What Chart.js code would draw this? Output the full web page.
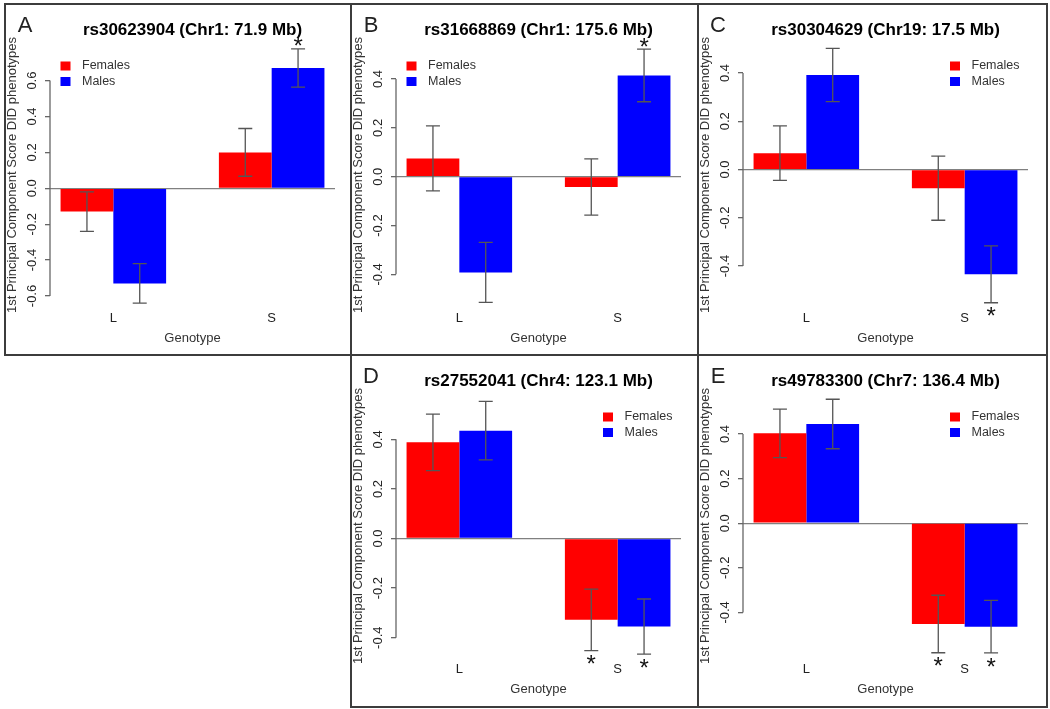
<!DOCTYPE html>
<html><head><meta charset="utf-8">
<script src="https://cdn.jsdelivr.net/npm/chart.js@4.4.1/dist/chart.umd.min.js"></script>
<style>
html,body{margin:0;padding:0;background:#fff;}
#wrap{position:relative;width:1050px;height:709px;overflow:hidden;background:#fff;}
.panel{position:absolute;width:347px;height:351px;}
.panel canvas{display:block;}
.ln{position:absolute;background:#3c3c3c;}
</style></head><body>
<div id="wrap">
  <div class="panel" style="left:5px;top:4px"><canvas id="cA" width="347" height="351"></canvas></div>
  <div class="panel" style="left:351px;top:4px"><canvas id="cB" width="347" height="351"></canvas></div>
  <div class="panel" style="left:698px;top:4px"><canvas id="cC" width="347" height="351"></canvas></div>
  <div class="panel" style="left:351px;top:355px"><canvas id="cD" width="347" height="351"></canvas></div>
  <div class="panel" style="left:698px;top:355px"><canvas id="cE" width="347" height="351"></canvas></div>
  <div class="ln" style="left:4px;top:3px;width:1044px;height:2px"></div>
  <div class="ln" style="left:4px;top:3px;width:2px;height:353px"></div>
  <div class="ln" style="left:4px;top:354px;width:1044px;height:2px"></div>
  <div class="ln" style="left:350px;top:3px;width:2px;height:705px"></div>
  <div class="ln" style="left:697px;top:3px;width:2px;height:705px"></div>
  <div class="ln" style="left:1046px;top:3px;width:2px;height:705px"></div>
  <div class="ln" style="left:350px;top:706px;width:698px;height:2px"></div>
</div>
<script>
// ---------- data ----------
const categories = ['L', 'S'];
const seriesNames = ['Females', 'Males'];
const panelLetters = ['A', 'B', 'C', 'D', 'E'];
const panelTitles = [
  'rs30623904 (Chr1: 71.9 Mb)',
  'rs31668869 (Chr1: 175.6 Mb)',
  'rs30304629 (Chr19: 17.5 Mb)',
  'rs27552041 (Chr4: 123.1 Mb)',
  'rs49783300 (Chr7: 136.4 Mb)'
];
const xAxisTitle = 'Genotype';
const yAxisTitle = '1st Principal Component Score DID phenotypes';
const legendSide = ['left', 'left', 'right', 'right', 'right'];

// Panel A
const femalesA = [-0.13, 0.20];
const malesA = [-0.53, 0.67];
const femalesSeA = [0.11, 0.133];
const malesSeA = [0.11, 0.107];
const femalesSigA = [false, false];
const malesSigA = [false, true];
const yTicksA = [-0.6, -0.4, -0.2, 0, 0.2, 0.4, 0.6];
const yRangeA = [-0.678, 0.826];

// Panel B
const femalesB = [0.075, -0.042];
const malesB = [-0.392, 0.415];
const femalesSeB = [0.133, 0.115];
const malesSeB = [0.123, 0.108];
const femalesSigB = [false, false];
const malesSigB = [false, true];
const yTicksB = [-0.4, -0.2, 0, 0.2, 0.4];
const yRangeB = [-0.546, 0.560];

// Panel C
const femalesC = [0.068, -0.077];
const malesC = [0.392, -0.434];
const femalesSeC = [0.113, 0.133];
const malesSeC = [0.110, 0.118];
const femalesSigC = [false, false];
const malesSigC = [false, true];
const yTicksC = [-0.4, -0.2, 0, 0.2, 0.4];
const yRangeC = [-0.582, 0.537];

// Panel D
const femalesD = [0.388, -0.328];
const malesD = [0.435, -0.355];
const femalesSeD = [0.114, 0.124];
const malesSeD = [0.118, 0.111];
const femalesSigD = [false, true];
const malesSigD = [false, true];
const yTicksD = [-0.4, -0.2, 0, 0.2, 0.4];
const yRangeD = [-0.494, 0.595];

// Panel E
const femalesE = [0.403, -0.452];
const malesE = [0.445, -0.464];
const femalesSeE = [0.109, 0.129];
const malesSeE = [0.111, 0.118];
const femalesSigE = [false, true];
const malesSigE = [false, true];
const yTicksE = [-0.4, -0.2, 0, 0.2, 0.4];
const yRangeE = [-0.618, 0.593];

const femalesColor = '#ff0000';
const malesColor = '#0000ff';

// ---------- chart ----------
Chart.defaults.font.family = '"Liberation Sans", Arial, Helvetica, sans-serif';
Chart.defaults.color = '#333';

// R barplot(beside=TRUE) layout: one bar-width gap, then the two bars of a group
function groupCenter(i) { return 2 + 3 * i; }

const decor = {
  id: 'decor',
  afterDatasetsDraw(chart) {
    const ctx = chart.ctx;
    const ys = chart.scales.y;
    const o = chart.options.plugins.decor;
    ctx.save();
    ctx.strokeStyle = '#555';
    ctx.lineWidth = 1.3;
    chart.data.datasets.forEach((ds, di) => {
      const meta = chart.getDatasetMeta(di);
      meta.data.forEach((bar, i) => {
        const v = ds.data[i].y, se = ds.errors[i];
        const yt = ys.getPixelForValue(v + se), yb = ys.getPixelForValue(v - se);
        ctx.beginPath();
        ctx.moveTo(bar.x, yt); ctx.lineTo(bar.x, yb);
        ctx.moveTo(bar.x - 7, yt); ctx.lineTo(bar.x + 7, yt);
        ctx.moveTo(bar.x - 7, yb); ctx.lineTo(bar.x + 7, yb);
        ctx.stroke();
        if (ds.sig[i]) {
          const c = v >= 0 ? yt - 8 : yb + 8;
          ctx.fillStyle = '#111';
          ctx.font = '24px "Liberation Sans", Arial, sans-serif';
          ctx.textAlign = 'center';
          ctx.textBaseline = 'alphabetic';
          ctx.fillText('*', bar.x, c + 0.57 * 24);
        }
      });
    });
    // y axis line (R style: spans first to last tick)
    const tk = ys.ticks;
    const x0 = chart.chartArea.left;
    ctx.strokeStyle = '#666';
    ctx.beginPath();
    ctx.moveTo(x0, ys.getPixelForValue(tk[0].value));
    ctx.lineTo(x0, ys.getPixelForValue(tk[tk.length - 1].value));
    ctx.stroke();
    ctx.restore();
  },
  afterDraw(chart) {
    const ctx = chart.ctx;
    const o = chart.options.plugins.decor;
    ctx.save();
    // panel letter
    ctx.fillStyle = '#222';
    ctx.font = '22px "Liberation Sans", Arial, sans-serif';
    ctx.textAlign = 'center';
    ctx.textBaseline = 'middle';
    ctx.fillText(o.letter, 20, 22);
    // legend
    const bx = o.legend === 'left' ? 55.5 : 252;
    ctx.font = '12.5px "Liberation Sans", Arial, sans-serif';
    ctx.textAlign = 'left';
    chart.data.datasets.forEach((ds, i) => {
      const cy = 62 + i * 15.5;
      ctx.fillStyle = ds.backgroundColor;
      ctx.fillRect(bx, cy - 4.5, 10, 9);
      ctx.fillStyle = '#333';
      ctx.fillText(ds.label, bx + 21.5, cy);
    });
    ctx.restore();
  }
};

function makePanel(id, letter, title, fem, mal, femSe, malSe, femSig, malSig, yTicks, yRange, legend) {
  const toPts = arr => arr.map((v, i) => ({ x: groupCenter(i), y: v }));
  new Chart(document.getElementById(id), {
    type: 'bar',
    data: {
      datasets: [
        { label: seriesNames[0], data: toPts(fem), errors: femSe, sig: femSig, backgroundColor: femalesColor, borderWidth: 0 },
        { label: seriesNames[1], data: toPts(mal), errors: malSe, sig: malSig, backgroundColor: malesColor, borderWidth: 0 }
      ]
    },
    options: {
      responsive: false,
      animation: false,
      devicePixelRatio: 1,
      layout: { padding: { left: 0, right: 17, top: 0, bottom: 0 } },
      datasets: { bar: { categoryPercentage: 2 / 3, barPercentage: 1 } },
      plugins: {
        legend: { display: false },
        tooltip: { enabled: false },
        title: {
          display: true, text: title, fullSize: false, color: '#000',
          font: { size: 17, weight: 'bold', lineHeight: '20px' },
          padding: { top: 16, bottom: 0 }
        },
        decor: { letter: letter, legend: legend }
      },
      scales: {
        x: {
          type: 'linear', min: 0.8, max: 6.2, bounds: 'data', offset: false,
          afterBuildTicks: s => { s.ticks = categories.map((c, i) => ({ value: groupCenter(i) })); },
          afterFit: s => { s.height = 45; },
          grid: { display: false, drawTicks: false },
          border: { display: false },
          ticks: {
            autoSkip: false, maxRotation: 0, padding: 1, color: '#222',
            font: { size: 13 },
            callback: v => categories[Math.round((v - 2) / 3)]
          },
          title: { display: true, text: xAxisTitle, color: '#333', font: { size: 13 }, padding: { top: 0, bottom: 9 } }
        },
        y: {
          type: 'linear', min: yRange[0], max: yRange[1], bounds: 'data',
          afterBuildTicks: s => { s.ticks = yTicks.map(v => ({ value: v })); },
          afterFit: s => { s.width = 45; },
          grid: {
            color: c => (c.tick && Math.abs(c.tick.value) < 1e-9) ? '#808080' : 'rgba(0,0,0,0)',
            lineWidth: 1.3, tickColor: '#666', tickWidth: 1.3, tickLength: 5, drawTicks: true
          },
          border: { display: false },
          ticks: {
            autoSkip: false, minRotation: 90, maxRotation: 90, crossAlign: 'center', padding: 1,
            color: '#222', font: { size: 13 },
            callback: v => v.toFixed(1)
          },
          title: { display: true, text: yAxisTitle, color: '#333', font: { size: 13 }, padding: { top: 0, bottom: 0 } }
        }
      }
    },
    plugins: [decor]
  });
}

makePanel('cA', panelLetters[0], panelTitles[0], femalesA, malesA, femalesSeA, malesSeA, femalesSigA, malesSigA, yTicksA, yRangeA, legendSide[0]);
makePanel('cB', panelLetters[1], panelTitles[1], femalesB, malesB, femalesSeB, malesSeB, femalesSigB, malesSigB, yTicksB, yRangeB, legendSide[1]);
makePanel('cC', panelLetters[2], panelTitles[2], femalesC, malesC, femalesSeC, malesSeC, femalesSigC, malesSigC, yTicksC, yRangeC, legendSide[2]);
makePanel('cD', panelLetters[3], panelTitles[3], femalesD, malesD, femalesSeD, malesSeD, femalesSigD, malesSigD, yTicksD, yRangeD, legendSide[3]);
makePanel('cE', panelLetters[4], panelTitles[4], femalesE, malesE, femalesSeE, malesSeE, femalesSigE, malesSigE, yTicksE, yRangeE, legendSide[4]);
</script>
</body></html>
